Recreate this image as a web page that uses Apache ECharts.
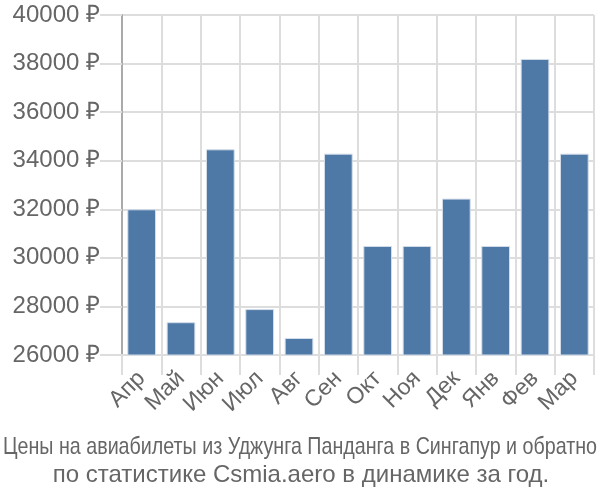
<!DOCTYPE html>
<html><head><meta charset="utf-8">
<script src="https://cdn.jsdelivr.net/npm/echarts@6/dist/echarts.min.js"></script>
<style>html,body{margin:0;padding:0;background:#fff}#c{width:600px;height:500px}</style>
</head><body><div id="c"></div>
<script>
const categories = ["Апр","Май","Июн","Июл","Авг","Сен","Окт","Ноя","Дек","Янв","Фев","Мар"];
const prices = [32000,27350,34470,27890,26700,34290,30490,30490,32440,30490,38190,34290];
const yMin = 26000, yMax = 40000, yStep = 2000;
const titleLine1 = "Цены на авиабилеты из Уджунга Панданга в Сингапур и обратно";
const titleLine2 = "по статистике Csmia.aero в динамике за год.";

const FONT = 'Liberation Sans';
const cv = document.createElement('canvas').getContext('2d');
cv.font = '24px "' + FONT + '"';
const w1 = cv.measureText(titleLine1).width;
const target1 = 594;
const sx1 = target1 / w1;

const chart = echarts.init(document.getElementById('c'), null, {renderer:'canvas'});
chart.setOption({
  animation:false,
  grid:{left:122,right:6,top:15,bottom:145,containLabel:false},
  xAxis:{type:'category',data:categories,
    axisLine:{show:true,lineStyle:{color:'#dddddd',width:2}},
    axisTick:{show:true,interval:0,length:20,lineStyle:{color:'#dddddd',width:2}},
    splitLine:{show:true,interval:0,lineStyle:{color:'#dddddd',width:2}},
    axisLabel:{interval:0,rotate:45,fontSize:23,color:'#666666',margin:20,fontFamily:FONT}},
  yAxis:{type:'value',min:yMin,max:yMax,interval:yStep,
    axisLine:{show:true,lineStyle:{color:'#aaaaaa',width:2}},
    axisTick:{show:true,length:22,lineStyle:{color:'#dddddd',width:2}},
    splitLine:{show:true,lineStyle:{color:'#dddddd',width:2}},
    axisLabel:{fontSize:24,color:'#666666',margin:22,fontFamily:FONT,formatter:v=>v+' ₽'}},
  series:[{type:'bar',data:prices,barCategoryGap:'27%',
    itemStyle:{color:'#4e79a7',borderColor:'#d4deea',borderWidth:1}}],
  graphic:[
    {type:'text',x:300,y:447,scaleX:sx1,originX:0,originY:0,
      style:{text:titleLine1,fontSize:24,fill:'#666666',fontFamily:FONT,align:'center',verticalAlign:'middle'}},
    {type:'text',x:301,y:475,
      style:{text:titleLine2,fontSize:24,fill:'#666666',fontFamily:FONT,align:'center',verticalAlign:'middle'}}
  ]
});
</script></body></html>
